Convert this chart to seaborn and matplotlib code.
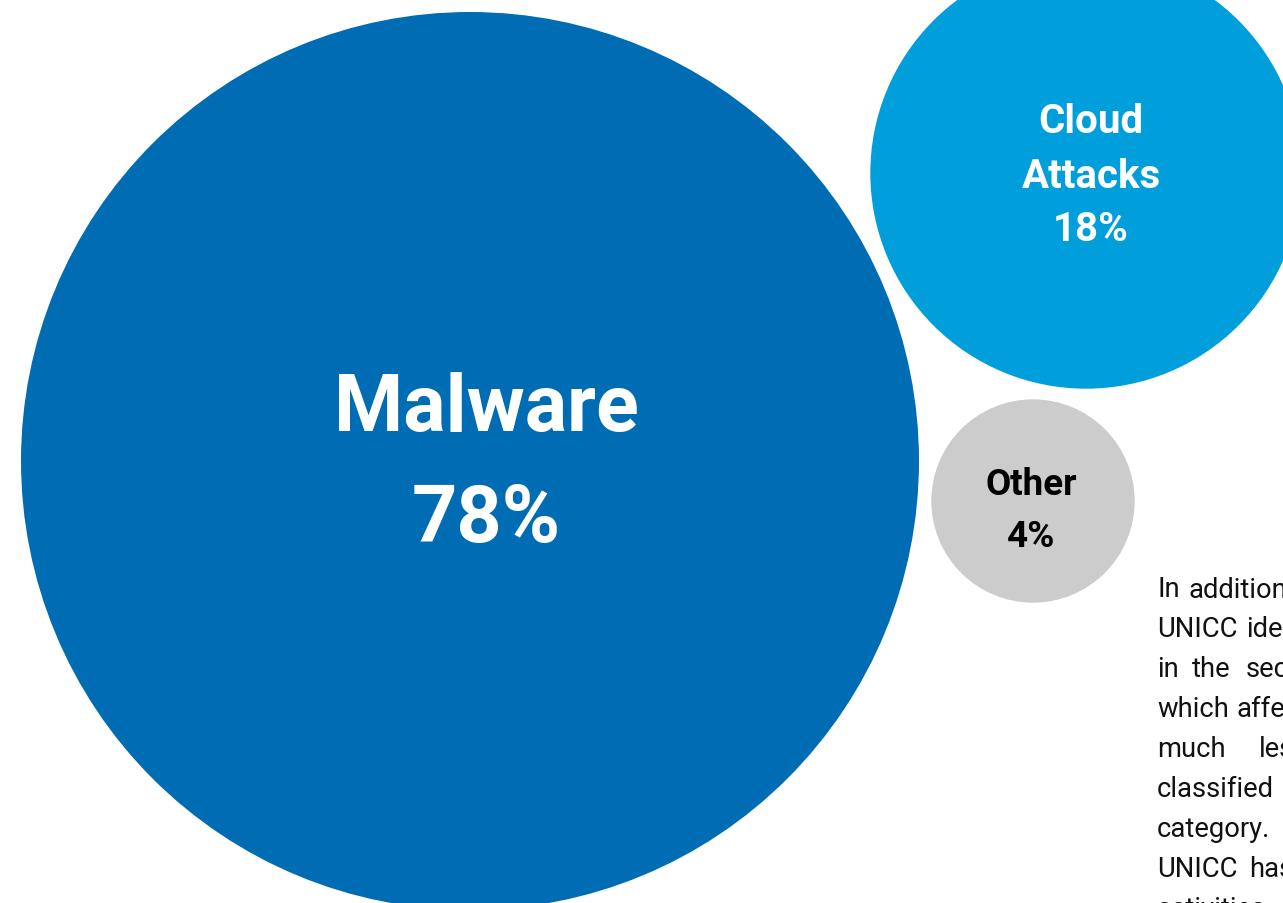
import matplotlib
matplotlib.use("Agg")
import matplotlib.pyplot as plt
import pandas as pd
import seaborn as sns

# bubble data (share of incidents, %)
labels = ["Malware", "Cloud Attacks", "Other"]
shares = [78, 18, 4]
colors = ["#006CB4", "#009FDB", "#CCCCCC"]

# bubble layout (pixel coordinates of the packed bubbles)
x_center = [470, 1086, 1033]
y_center = [462, 174, 502]

# right-hand paragraph (cut off by the page edge)
para_lines = [
    ["In", "addition,"],
    ["UNICC", "identified"],
    ["in", "the", "second"],
    ["which", "affected"],
    ["much", "less"],
    ["classified"],
    ["category."],
    ["UNICC", "has"],
    ["activities"],
]
para_word_x = [
    [1157, 1189],
    [1157, 1246],
    [1157, 1192, 1246],
    [1157, 1237],
    [1157, 1259],
    [1157],
    [1157],
    [1157, 1249],
    [1157],
]

df = pd.DataFrame({"label": labels, "share": shares, "x": x_center, "y": y_center})

sns.set_theme(style="white")
plt.rcParams["font.family"] = ["Roboto", "DejaVu Sans"]

DPI = 100
fig = plt.figure(figsize=(12.83, 9.04), dpi=DPI)
ax = fig.add_axes([0, 0, 1, 1])

# biggest bubble: radius 449 px -> marker area in pt^2, area proportional to share
r_max_pt = 449 * 72 / DPI
s_max = (2 * r_max_pt) ** 2
sns.scatterplot(
    data=df, x="x", y="y", hue="label", size="share",
    palette=dict(zip(labels, colors)),
    sizes=(0, s_max), size_norm=(0, max(shares)),
    linewidth=0, legend=False, ax=ax, clip_on=False,
)

ax.set_xlim(0, 1283)
ax.set_ylim(904, 0)
ax.axis("off")

# bubble labels
ax.text(486, 431, "Malware", color="white", fontsize=57, fontweight="bold", ha="center", va="baseline")
ax.text(486, 542, f"{shares[0]}%", color="white", fontsize=57, fontweight="bold", ha="center", va="baseline")

ax.text(1091, 133, "Cloud", color="white", fontsize=29, fontweight="bold", ha="center", va="baseline")
ax.text(1091, 188, "Attacks", color="white", fontsize=29, fontweight="bold", ha="center", va="baseline")
ax.text(1091, 241, f"{shares[1]}%", color="white", fontsize=29, fontweight="bold", ha="center", va="baseline")

ax.text(1031, 495, "Other", color="black", fontsize=26.5, fontweight="bold", ha="center", va="baseline")
ax.text(1031, 547, f"{shares[2]}%", color="black", fontsize=26.5, fontweight="bold", ha="center", va="baseline")

# paragraph text, justified words
for i, (words, xs) in enumerate(zip(para_lines, para_word_x)):
    y = 597 + i * 40
    for w, x in zip(words, xs):
        ax.text(x, y, w, color="#111111", fontsize=19.7, ha="left", va="baseline")

fig.savefig("out.png", dpi=DPI, facecolor="white")
